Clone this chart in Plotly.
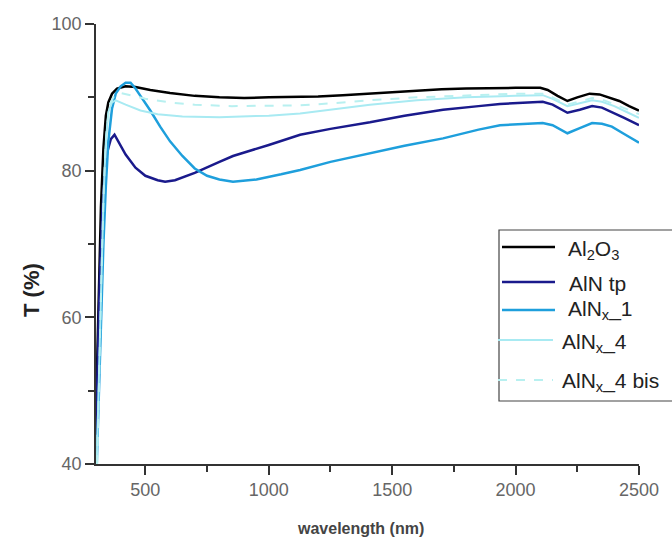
import plotly.graph_objects as go

# Data
al2o3_wl = [302, 310, 320, 330, 340, 350, 365, 385, 420, 460, 520, 600, 700, 800, 900, 1000, 1100, 1200, 1300, 1400, 1500, 1600, 1700, 1800, 1900, 2000, 2100, 2130, 2170, 2210, 2250, 2300, 2340, 2380, 2420, 2460, 2500]
al2o3_t = [50, 62, 75, 83, 87.5, 89.3, 90.5, 91.2, 91.5, 91.4, 91.0, 90.6, 90.2, 90.0, 89.9, 90.0, 90.0, 90.1, 90.3, 90.5, 90.8, 91.0, 91.1, 91.2, 91.3, 91.3, 91.3, 91.0, 90.2, 89.5, 90.0, 90.5, 90.4, 90.0, 89.5, 88.8, 88.2]

alntp_wl = [300, 305, 315, 325, 335, 345, 360, 375, 390, 420, 460, 500, 550, 580, 620, 700, 800, 855, 1000, 1127, 1250, 1410, 1550, 1706, 1850, 1937, 2050, 2110, 2150, 2210, 2260, 2310, 2350, 2390, 2440, 2500]
alntp_t = [44, 52, 65, 74, 79.5, 82.5, 84.3, 84.9, 84.0, 82.2, 80.4, 79.3, 78.7, 78.5, 78.7, 79.7, 81.2, 82.0, 83.5, 84.9, 85.7, 86.6, 87.5, 88.3, 88.8, 89.1, 89.3, 89.4, 89.0, 87.9, 88.3, 88.8, 88.6, 88.0, 87.2, 86.2]

alnx1_wl = [303, 310, 320, 330, 340, 350, 365, 380, 400, 420, 440, 460, 480, 500, 520, 560, 600, 650, 700, 750, 800, 855, 950, 1050, 1127, 1250, 1410, 1550, 1706, 1850, 1937, 2050, 2110, 2150, 2210, 2260, 2310, 2350, 2390, 2440, 2500]
alnx1_t = [40, 48, 60, 70, 78, 84, 88.5, 90.5, 91.5, 92.0, 92.0, 91.2, 90.2, 89.2, 88.2, 86.0, 84.0, 82.0, 80.3, 79.3, 78.8, 78.5, 78.8, 79.5, 80.1, 81.2, 82.4, 83.4, 84.4, 85.6, 86.2, 86.4, 86.5, 86.2, 85.1, 85.8, 86.5, 86.4, 86.0, 85.0, 83.8]

alnx4_wl = [303, 310, 320, 330, 340, 350, 365, 380, 420, 480, 550, 650, 800, 1000, 1127, 1300, 1410, 1600, 1800, 2000, 2110, 2150, 2210, 2260, 2310, 2350, 2400, 2450, 2500]
alnx4_t = [40, 50, 64, 76, 84, 88, 89.3, 89.6, 89.0, 88.2, 87.7, 87.4, 87.3, 87.5, 87.8, 88.5, 89.0, 89.6, 90.0, 90.2, 90.3, 89.8, 88.8, 89.2, 89.6, 89.4, 88.8, 88.0, 87.2]

alnx4bis_wl = [305, 312, 322, 332, 342, 355, 375, 400, 440, 500, 600, 700, 850, 1000, 1127, 1300, 1410, 1600, 1800, 2000, 2110, 2150, 2210, 2260, 2310, 2350, 2400, 2450, 2500]
alnx4bis_t = [40, 52, 66, 78, 85, 89, 90.3, 90.6, 90.3, 89.8, 89.3, 89.0, 88.8, 88.8, 88.9, 89.3, 89.6, 90.0, 90.3, 90.5, 90.5, 90.0, 89.0, 89.4, 89.9, 89.7, 89.1, 88.4, 87.7]

series_names = ["Al<sub>2</sub>O<sub>3</sub>", "AlN tp", "AlN<sub>x</sub>_1",
                "AlN<sub>x</sub>_4", "AlN<sub>x</sub>_4 bis"]
series_x = [al2o3_wl, alntp_wl, alnx1_wl, alnx4_wl, alnx4bis_wl]
series_y = [al2o3_t, alntp_t, alnx1_t, alnx4_t, alnx4bis_t]

colors = ["#000000", "#1a1a8c", "#1e9fdc", "#a8eaf2", "#b8f0f0"]
widths = [2.5, 2.5, 2.5, 2, 2]
dashes = ["solid", "solid", "solid", "solid", "dash"]

W, H = 672, 540
L, R, T, B = 96, 33, 24, 76
PW, PH = W - L - R, H - T - B


def px(xp):
    return (xp - L) / PW


def py(yp):
    return (H - B - yp) / PH


fig = go.Figure()
for name, x, y, c, w, d in zip(series_names, series_x, series_y, colors, widths, dashes):
    fig.add_trace(go.Scatter(x=x, y=y, mode="lines", name=name, showlegend=False,
                             line=dict(color=c, width=w, dash=d)))

axis_common = dict(showline=True, linecolor="#333333", linewidth=1.5,
                   ticks="outside", ticklen=9, tickcolor="#333333", tickwidth=1.5,
                   showgrid=False, zeroline=False,
                   tickfont=dict(family="Liberation Sans, Arial", size=18, color="#666666"))

fig.update_xaxes(range=[300, 2500], tick0=500, dtick=500,
                 minor=dict(dtick=250, tick0=250, ticklen=6, tickcolor="#333333", ticks="outside"),
                 **axis_common)
fig.update_yaxes(range=[40, 100], tick0=40, dtick=20,
                 minor=dict(dtick=10, tick0=40, ticklen=6, tickcolor="#333333", ticks="outside"),
                 **axis_common)

# axis titles
fig.add_annotation(text="<b>T (%)</b>", xref="paper", yref="paper", x=px(31), y=py(290),
                   textangle=-90, showarrow=False, xanchor="center", yanchor="middle",
                   font=dict(family="Liberation Sans, Arial", size=22, color="#222222"))
fig.add_annotation(text="<b>wavelength (nm)</b>", xref="paper", yref="paper", x=px(360), y=py(528),
                   showarrow=False, xanchor="center", yanchor="middle",
                   font=dict(family="Liberation Sans, Arial", size=16, color="#444444"))

# legend drawn by hand (box, sample lines, labels)
shapes = [dict(type="rect", xref="paper", yref="paper", x0=px(499), x1=px(676), y0=py(401), y1=py(230),
               line=dict(color="#444444", width=1.2), fillcolor="white", layer="above")]
line_y = [247, 282, 310, 340, 380]
line_x0 = [502, 502, 502, 498, 498]
line_x1 = [555, 555, 555, 553, 553]
text_y = [250, 284, 310, 343, 382]
text_x = [566, 567, 566, 560, 560]
for i in range(5):
    shapes.append(dict(type="line", xref="paper", yref="paper", x0=px(line_x0[i]), x1=px(line_x1[i]),
                       y0=py(line_y[i]), y1=py(line_y[i]), layer="above",
                       line=dict(color=colors[i], width=widths[i], dash=dashes[i])))
    fig.add_annotation(text=series_names[i], xref="paper", yref="paper", x=px(text_x[i]), y=py(text_y[i]),
                       showarrow=False, xanchor="left", yanchor="middle",
                       font=dict(family="Liberation Sans, Arial", size=21, color="#222222"))

fig.update_layout(
    width=W, height=H,
    margin=dict(l=L, r=R, t=T, b=B),
    paper_bgcolor="white", plot_bgcolor="white",
    showlegend=False,
    shapes=shapes,
)

fig.write_html("out.html")
